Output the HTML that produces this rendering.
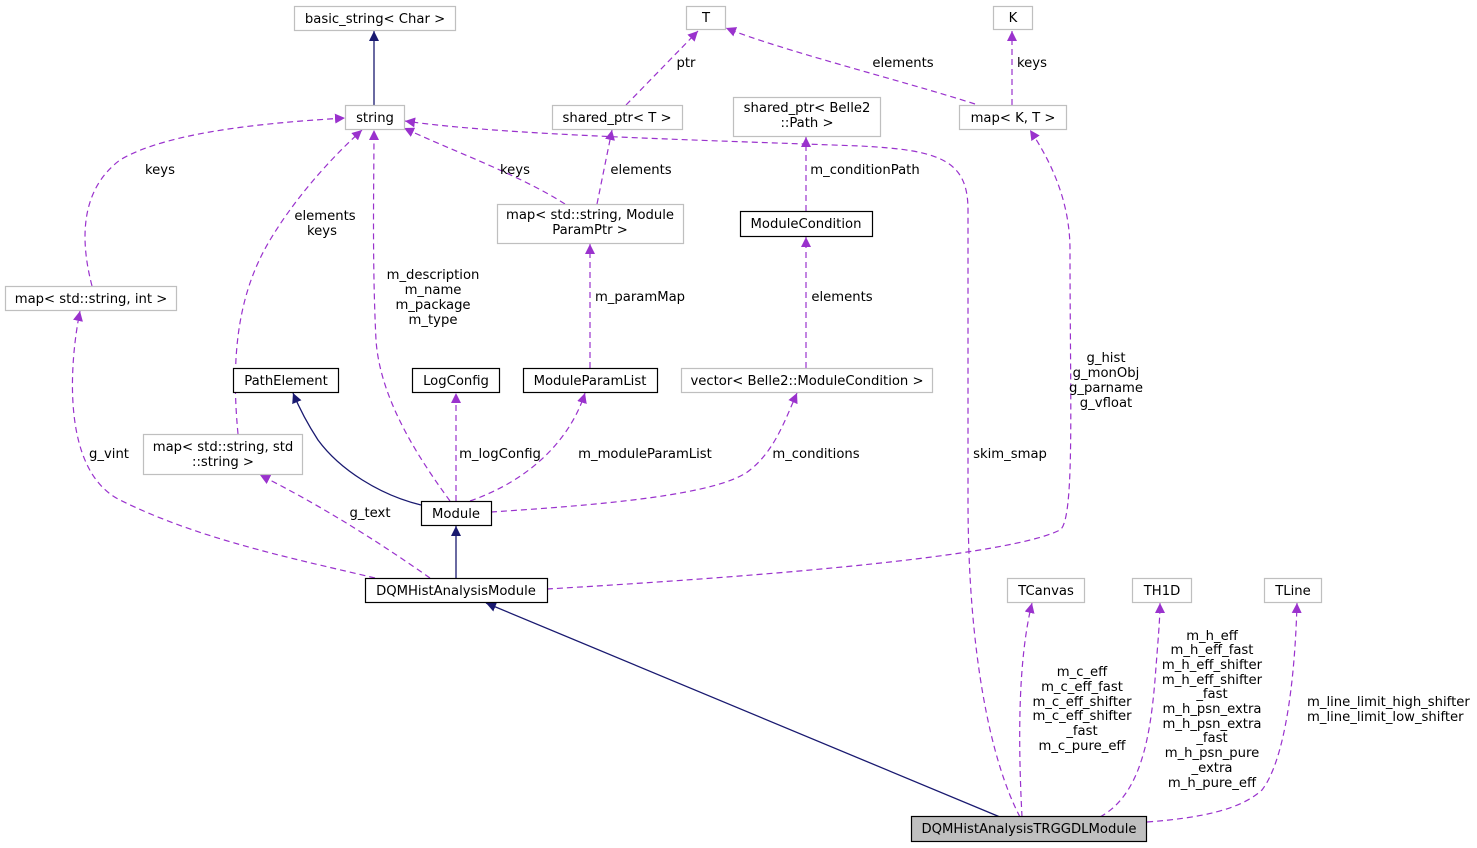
<!DOCTYPE html>
<html><head><meta charset="utf-8"><style>
html,body{margin:0;padding:0;background:#fff;}
svg{display:block;}
text{font-family:"DejaVu Sans","Liberation Sans",sans-serif;font-size:13.2px;fill:#000;}
.g{fill:#fff;stroke:#bfbfbf;stroke-width:1.2}
.b{fill:#fff;stroke:#000;stroke-width:1.2}
.s{fill:none;stroke:#191970;stroke-width:1.3}
.d{fill:none;stroke:#9a32cd;stroke-width:1.2;stroke-dasharray:6,4}
</style></head><body>
<svg width="1477" height="848" viewBox="0 0 1477 848" xmlns="http://www.w3.org/2000/svg">
<defs>
<marker id="ab" viewBox="0 0 10 10" refX="10" refY="5" markerWidth="10" markerHeight="10" markerUnits="userSpaceOnUse" orient="auto"><path d="M0,0 L10,5 L0,10 z" fill="#191970"/></marker>
<marker id="ap" viewBox="0 0 10 10" refX="10" refY="5" markerWidth="10" markerHeight="10" markerUnits="userSpaceOnUse" orient="auto"><path d="M0,0 L10,5 L0,10 z" fill="#9a32cd"/></marker>
</defs>
<path class="s" d="M374,105 L374,31" marker-end="url(#ab)"/>
<path class="d" d="M626,105 L698,31" marker-end="url(#ap)"/>
<path class="d" d="M975,104 C900,80 780,50 726,28" marker-end="url(#ap)"/>
<path class="d" d="M1012,105 L1012,31" marker-end="url(#ap)"/>
<path class="d" d="M565,204 C520,175 450,150 404,128" marker-end="url(#ap)"/>
<path class="d" d="M597,204 L612,130" marker-end="url(#ap)"/>
<path class="d" d="M806,211 L806,137" marker-end="url(#ap)"/>
<path class="d" d="M92,286 C80,240 80,190 120,160 C170,130 280,122 345,118" marker-end="url(#ap)"/>
<path class="d" d="M238,434 C230,350 240,290 270,240 C300,190 340,150 362,130" marker-end="url(#ap)"/>
<path class="d" d="M450,501 C420,460 380,400 376,340 C372,260 374,180 374,130" marker-end="url(#ap)"/>
<path class="d" d="M590,368 L590,244" marker-end="url(#ap)"/>
<path class="d" d="M806,368 L806,237" marker-end="url(#ap)"/>
<path class="s" d="M421,505 C380,495 340,470 318,440 C305,420 298,405 293,393" marker-end="url(#ab)"/>
<path class="d" d="M456,501 L456,393" marker-end="url(#ap)"/>
<path class="d" d="M470,501 C530,480 570,440 585,393" marker-end="url(#ap)"/>
<path class="d" d="M491,512 C600,505 720,495 750,470 C775,450 785,420 797,393" marker-end="url(#ap)"/>
<path class="s" d="M456,578 L456,526" marker-end="url(#ab)"/>
<path class="d" d="M375,578 C300,560 200,540 120,500 C60,470 70,360 80,311" marker-end="url(#ap)"/>
<path class="d" d="M430,578 C390,550 330,510 260,475" marker-end="url(#ap)"/>
<path class="d" d="M547,589 C700,580 1000,560 1060,530 C1075,520 1070,400 1070,250 C1070,200 1050,160 1030,130" marker-end="url(#ap)"/>
<path class="s" d="M1000,817 L486,603" marker-end="url(#ab)"/>
<path class="d" d="M1020,817 C990,760 968,650 968,500 L968,210 C968,160 940,150 860,146 C700,140 500,135 405,121" marker-end="url(#ap)"/>
<path class="d" d="M1022,817 C1018,740 1018,660 1032,603" marker-end="url(#ap)"/>
<path class="d" d="M1100,817 C1140,795 1150,740 1155,680 C1158,640 1160,620 1160,603" marker-end="url(#ap)"/>
<path class="d" d="M1147,822 C1200,818 1240,810 1262,790 C1285,760 1295,680 1297,603" marker-end="url(#ap)"/>
<g text-anchor="middle">
<text x="686" y="67">ptr</text>
<text x="903" y="67">elements</text>
<text x="1032" y="67">keys</text>
<text x="515" y="174">keys</text>
<text x="641" y="174">elements</text>
<text x="865" y="174">m_conditionPath</text>
<text x="160" y="174">keys</text>
<text x="325" y="220">elements</text><text x="322" y="235">keys</text>
<text x="433" y="279">m_description</text><text x="433" y="294">m_name</text><text x="433" y="309">m_package</text><text x="433" y="324">m_type</text>
<text x="640" y="301">m_paramMap</text>
<text x="842" y="301">elements</text>
<text x="500" y="458">m_logConfig</text>
<text x="645" y="458">m_moduleParamList</text>
<text x="816" y="458">m_conditions</text>
<text x="109" y="458">g_vint</text>
<text x="370" y="517">g_text</text>
<text x="1106" y="362">g_hist</text><text x="1106" y="377">g_monObj</text><text x="1106" y="392">g_parname</text><text x="1106" y="407">g_vfloat</text>
<text x="1010" y="458">skim_smap</text>
<text x="1082" y="676">m_c_eff</text><text x="1082" y="691">m_c_eff_fast</text><text x="1082" y="706">m_c_eff_shifter</text><text x="1082" y="720">m_c_eff_shifter</text><text x="1082" y="735">_fast</text><text x="1082" y="750">m_c_pure_eff</text>
<text x="1212" y="640">m_h_eff</text><text x="1212" y="654">m_h_eff_fast</text><text x="1212" y="669">m_h_eff_shifter</text><text x="1212" y="684">m_h_eff_shifter</text><text x="1212" y="698">_fast</text><text x="1212" y="713">m_h_psn_extra</text><text x="1212" y="728">m_h_psn_extra</text><text x="1212" y="742">_fast</text><text x="1212" y="757">m_h_psn_pure</text><text x="1212" y="772">_extra</text><text x="1212" y="787">m_h_pure_eff</text>
</g>
<text x="1307" y="706">m_line_limit_high_shifter</text>
<text x="1307" y="721">m_line_limit_low_shifter</text>
<g text-anchor="middle">
<rect class="g" x="294.5" y="6.5" width="161" height="24"/><text x="375" y="23">basic_string&lt; Char &gt;</text>
<rect class="g" x="686.5" y="6.5" width="39" height="23"/><text x="706" y="22">T</text>
<rect class="g" x="993.5" y="6.5" width="39" height="23"/><text x="1013" y="22">K</text>
<rect class="g" x="345.5" y="105.5" width="59" height="24"/><text x="375" y="122">string</text>
<rect class="g" x="552.5" y="105.5" width="130" height="24"/><text x="617" y="122">shared_ptr&lt; T &gt;</text>
<rect class="g" x="733.5" y="97.5" width="147" height="39"/><text x="807" y="112">shared_ptr&lt; Belle2</text><text x="807" y="127">::Path &gt;</text>
<rect class="g" x="959.5" y="105.5" width="107" height="24"/><text x="1013" y="122">map&lt; K, T &gt;</text>
<rect class="g" x="497.5" y="204.5" width="186" height="39"/><text x="590" y="219">map&lt; std::string, Module</text><text x="590" y="234">ParamPtr &gt;</text>
<rect class="b" x="740.5" y="211.5" width="132" height="25"/><text x="806" y="228">ModuleCondition</text>
<rect class="g" x="5.5" y="286.5" width="171" height="24"/><text x="91" y="303">map&lt; std::string, int &gt;</text>
<rect class="b" x="233.5" y="368.5" width="105" height="24"/><text x="286" y="385">PathElement</text>
<rect class="b" x="412.5" y="368.5" width="87" height="24"/><text x="456" y="385">LogConfig</text>
<rect class="b" x="523.5" y="368.5" width="134" height="24"/><text x="590" y="385">ModuleParamList</text>
<rect class="g" x="681.5" y="368.5" width="251" height="24"/><text x="807" y="385">vector&lt; Belle2::ModuleCondition &gt;</text>
<rect class="g" x="143.5" y="434.5" width="159" height="40"/><text x="223" y="451">map&lt; std::string, std</text><text x="223" y="466">::string &gt;</text>
<rect class="b" x="421.5" y="501.5" width="70" height="24"/><text x="456" y="518">Module</text>
<rect class="b" x="365.5" y="578.5" width="182" height="24"/><text x="456" y="595">DQMHistAnalysisModule</text>
<rect class="g" x="1007.5" y="578.5" width="77" height="24"/><text x="1046" y="595">TCanvas</text>
<rect class="g" x="1132.5" y="578.5" width="59" height="24"/><text x="1162" y="595">TH1D</text>
<rect class="g" x="1264.5" y="578.5" width="57" height="24"/><text x="1293" y="595">TLine</text>
<rect x="911.5" y="816.5" width="235" height="25" fill="#bfbfbf" stroke="#000" stroke-width="1.2"/><text x="1029" y="833">DQMHistAnalysisTRGGDLModule</text>
</g>
</svg>
</body></html>
